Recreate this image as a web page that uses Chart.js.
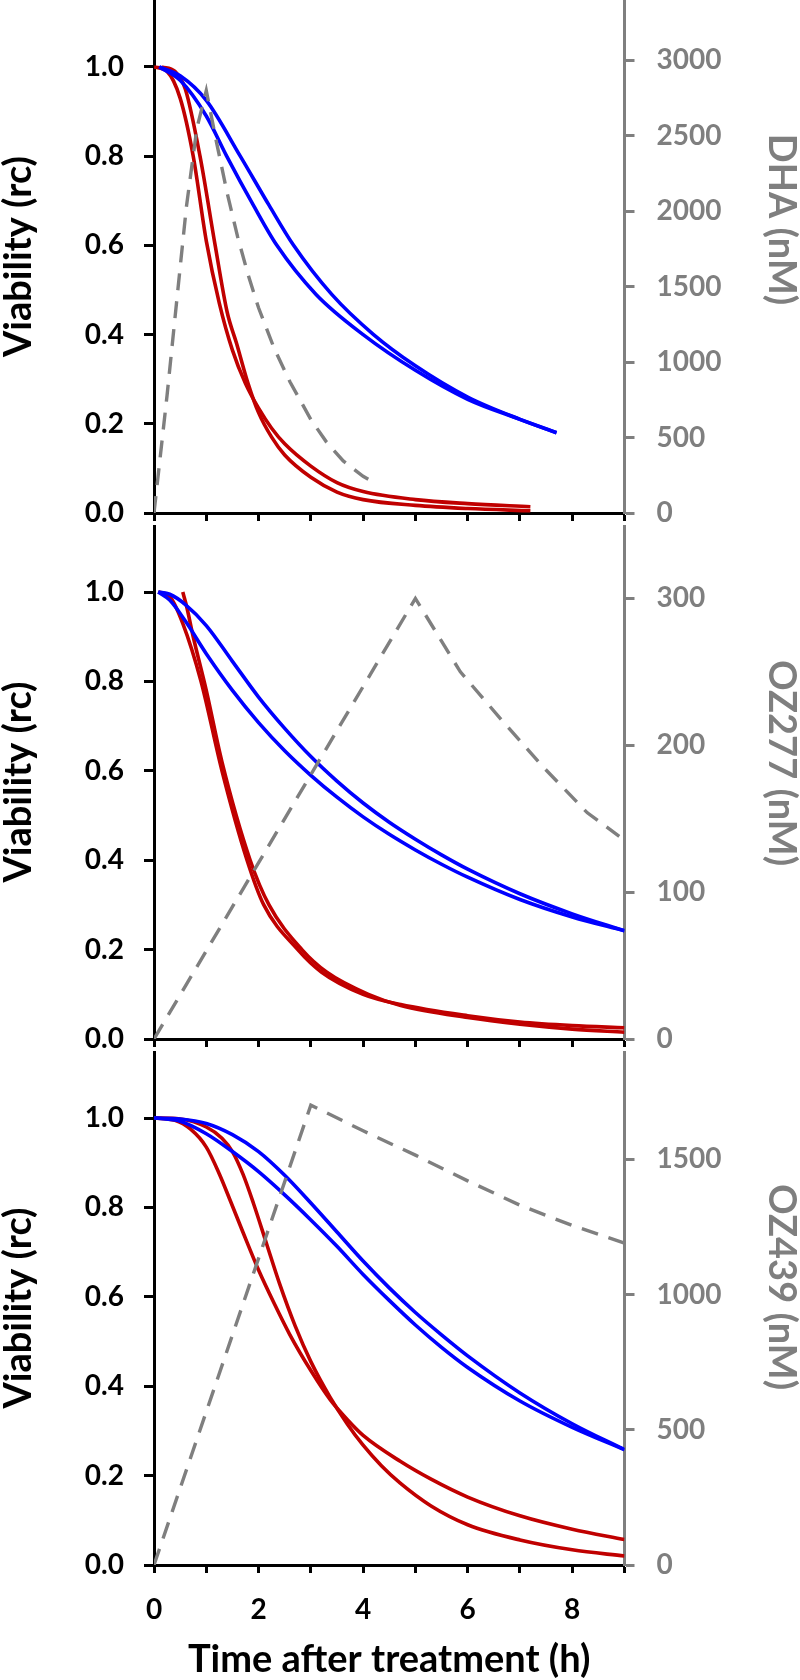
<!DOCTYPE html>
<html>
<head>
<meta charset="utf-8">
<script src="https://cdn.jsdelivr.net/npm/chart.js@4.4.1/dist/chart.umd.min.js"></script>
<style>
html, body { margin: 0; padding: 0; background: #ffffff; width: 800px; height: 1680px; overflow: hidden; }
canvas { position: absolute; left: 0; }
</style>
</head>
<body>
<canvas id="p1" width="800" height="525" style="top:0px"></canvas>
<canvas id="p2" width="800" height="526" style="top:525px"></canvas>
<canvas id="p3" width="800" height="629" style="top:1051px"></canvas>
<script>
// ---------- DATA ----------
const xTickValues = [0, 1, 2, 3, 4, 5, 6, 7, 8, 9];
const xLabelValues = [0, 2, 4, 6, 8];
const leftTickValues = [0, 0.2, 0.4, 0.6, 0.8, 1.0];
const dhaTickValues = [0, 500, 1000, 1500, 2000, 2500, 3000];
const oz277TickValues = [0, 100, 200, 300];
const oz439TickValues = [0, 500, 1000, 1500];
const leftTitle = 'Viability (rc)';
const xTitle = 'Time after treatment (h)';
const drugTitles = ['DHA (nM)', 'OZ277 (nM)', 'OZ439 (nM)'];

// Panel 1: DHA
const dhaConcTime = [0, 0.25, 0.43, 0.62, 0.82, 1.0, 1.2, 1.4, 1.6, 1.8, 2.0, 2.3, 2.6, 3.0, 3.3, 3.62, 4.0, 4.27];
const dhaConc     = [0, 780, 1390, 2030, 2550, 2800, 2450, 2120, 1830, 1580, 1360, 1090, 870, 620, 470, 345, 243, 190];
const dhaBlueATime = [0.1, 0.5, 1.0, 1.65, 2.2, 2.67, 3.4, 4.2, 5.0, 6.0, 7.0, 7.7];
const dhaBlueA     = [1.0, 0.98, 0.925, 0.8, 0.69, 0.6, 0.49, 0.4, 0.33, 0.26, 0.21, 0.18];
const dhaBlueBTime = [0.1, 0.5, 1.0, 1.39, 1.9, 2.35, 3.1, 4.0, 5.0, 6.0, 7.0, 7.7];
const dhaBlueB     = [1.0, 0.97, 0.89, 0.8, 0.69, 0.6, 0.49, 0.4, 0.32, 0.255, 0.21, 0.18];
const dhaRedATime = [0, 0.25, 0.5, 0.75, 1.0, 1.25, 1.5, 1.75, 2.0, 2.25, 2.5, 3.0, 3.5, 4.0, 5.0, 6.0, 7.2];
const dhaRedA     = [1.0, 0.99, 0.93, 0.8, 0.61, 0.47, 0.365, 0.29, 0.235, 0.19, 0.155, 0.105, 0.068, 0.048, 0.03, 0.021, 0.014];
const dhaRedBTime = [0.15, 0.4, 0.6, 0.88, 1.17, 1.4, 1.58, 1.8, 2.0, 2.25, 2.5, 3.0, 3.5, 4.0, 5.0, 6.0, 7.2];
const dhaRedB     = [1.0, 0.99, 0.95, 0.8, 0.6, 0.45, 0.38, 0.29, 0.225, 0.17, 0.13, 0.08, 0.047, 0.03, 0.017, 0.01, 0.005];

// Panel 2: OZ277
const oz277ConcTime = [0, 5, 5.86, 6.63, 7.45, 8.29, 8.9];
const oz277Conc     = [0, 300, 250, 218, 185, 154, 138];
const oz277BlueATime = [0.08, 0.3, 0.6, 1.0, 1.5, 2.0, 2.5, 3.0, 3.5, 4.0, 4.5, 5.0, 5.5, 6.0, 7.0, 8.0, 9.0];
const oz277BlueA     = [1.0, 0.995, 0.972, 0.925, 0.845, 0.765, 0.695, 0.632, 0.577, 0.528, 0.485, 0.447, 0.412, 0.38, 0.325, 0.28, 0.242];
const oz277BlueBTime = [0.08, 0.3, 0.6, 1.0, 1.5, 2.0, 2.5, 3.0, 3.5, 4.0, 4.5, 5.0, 5.5, 6.0, 7.0, 8.0, 9.0];
const oz277BlueB     = [1.0, 0.982, 0.935, 0.862, 0.78, 0.708, 0.645, 0.59, 0.541, 0.497, 0.458, 0.423, 0.391, 0.362, 0.312, 0.273, 0.242];
const oz277RedATime = [0.08, 0.3, 0.55, 0.9, 1.3, 1.78, 2.1, 2.75, 3.2, 4.0, 4.72, 6.0, 7.0, 8.0, 9.0];
const oz277RedA     = [1.0, 0.99, 0.93, 0.8, 0.6, 0.4, 0.3, 0.2, 0.15, 0.1, 0.077, 0.052, 0.038, 0.03, 0.025];
const oz277RedBTime = [0.55, 0.62, 0.75, 1.0, 1.3, 1.84, 2.2, 2.83, 3.3, 4.1, 4.72, 6.0, 7.0, 8.0, 9.0];
const oz277RedB     = [1.0, 0.97, 0.9, 0.78, 0.62, 0.4, 0.3, 0.2, 0.15, 0.1, 0.075, 0.048, 0.033, 0.022, 0.015];

// Panel 3: OZ439
const oz439ConcTime = [0, 3, 4, 5, 6, 7, 8, 9];
const oz439Conc     = [0, 1700, 1605, 1515, 1420, 1330, 1255, 1190];
const oz439BlueATime = [0, 0.5, 1, 1.5, 2, 2.5, 3, 3.5, 4, 4.5, 5, 5.5, 6, 7, 8, 9];
const oz439BlueA     = [1.0, 0.998, 0.988, 0.963, 0.925, 0.872, 0.81, 0.745, 0.68, 0.62, 0.565, 0.515, 0.468, 0.385, 0.316, 0.258];
const oz439BlueBTime = [0, 0.5, 1, 1.5, 2, 2.5, 3, 3.5, 4, 4.5, 5, 5.5, 6, 7, 8, 9];
const oz439BlueB     = [1.0, 0.993, 0.965, 0.925, 0.88, 0.828, 0.772, 0.713, 0.65, 0.592, 0.537, 0.487, 0.442, 0.367, 0.308, 0.258];
const oz439RedATime = [0, 0.4, 0.7, 1.0, 1.25, 1.46, 1.7, 2.0, 2.3, 2.6, 3.0, 3.37, 3.7, 4.0, 4.71, 5.3, 6.0, 7.0, 8.0, 9.0];
const oz439RedA     = [1.0, 0.995, 0.975, 0.935, 0.875, 0.815, 0.745, 0.66, 0.585, 0.515, 0.435, 0.37, 0.325, 0.29, 0.232, 0.192, 0.152, 0.11, 0.08, 0.057];
const oz439RedBTime = [0, 0.5, 1.0, 1.3, 1.5, 1.7, 1.9, 2.15, 2.4, 2.7, 3.0, 3.37, 3.7, 4.0, 4.35, 4.71, 5.3, 6.0, 7.0, 8.0, 9.0];
const oz439RedB     = [1.0, 0.998, 0.98, 0.955, 0.925, 0.875, 0.81, 0.72, 0.63, 0.535, 0.455, 0.375, 0.315, 0.268, 0.222, 0.183, 0.132, 0.09, 0.056, 0.034, 0.02];

const rightMaxes = [3400, 350, 1900];
const rightTickSets = [dhaTickValues, oz277TickValues, oz439TickValues];

// ---------- STYLE ----------
const BLUE = '#0000FF', RED = '#C00000', GRAY = '#7F7F7F', BLACK = '#000000';
const FONT = 'Lato';
const TICK_SIZE = 28, TITLE_SIZE = 38;
const CURVE_W = 3.6;

function pts(t, v) { return t.map((x, i) => ({ x: x, y: v[i] })); }
function noPad(s) { s.paddingTop = 0; s.paddingBottom = 0; s.paddingLeft = 0; s.paddingRight = 0; }

const sideTitlePlugin = {
  id: 'sideTitle',
  afterDraw(chart, args, opts) {
    const s = chart.scales.y2;
    const ctx = chart.ctx;
    ctx.save();
    ctx.translate(s.right - opts.edge, (s.top + s.bottom) / 2 - opts.shift);
    ctx.rotate(Math.PI / 2);
    ctx.font = 'bold ' + opts.size + 'px ' + FONT;
    ctx.fillStyle = GRAY;
    ctx.textAlign = 'center';
    ctx.textBaseline = 'middle';
    ctx.fillText(opts.text, 0, 0);
    ctx.restore();
  }
};

function makePanel(id, idx, series, showX, xHeight, shift) {
  const datasets = [
    { data: pts(series.concT, series.conc), yAxisID: 'y2', borderColor: GRAY, borderDash: [17, 11], borderWidth: 3.4, tension: 0 },
    { data: pts(series.bAT, series.bA), yAxisID: 'y', borderColor: BLUE, borderWidth: CURVE_W, cubicInterpolationMode: 'monotone' },
    { data: pts(series.bBT, series.bB), yAxisID: 'y', borderColor: BLUE, borderWidth: CURVE_W, cubicInterpolationMode: 'monotone' },
    { data: pts(series.rAT, series.rA), yAxisID: 'y', borderColor: RED, borderWidth: CURVE_W, cubicInterpolationMode: 'monotone' },
    { data: pts(series.rBT, series.rB), yAxisID: 'y', borderColor: RED, borderWidth: CURVE_W, cubicInterpolationMode: 'monotone' }
  ];
  return new Chart(document.getElementById(id), {
    type: 'line',
    data: { datasets: datasets },
    plugins: [sideTitlePlugin],
    options: {
      responsive: false,
      animation: false,
      devicePixelRatio: 1,
      layout: { padding: 0 },
      elements: { point: { radius: 0 }, line: { fill: false, borderCapStyle: 'butt' } },
      plugins: {
        legend: { display: false },
        tooltip: { enabled: false },
        sideTitle: { text: drugTitles[idx], shift: shift, edge: 19, size: TITLE_SIZE }
      },
      scales: {
        x: {
          type: 'linear', position: 'bottom', min: 0, max: 9,
          border: { display: true, color: BLACK, width: 3 },
          grid: { display: true, drawOnChartArea: false, drawTicks: true, tickLength: 8, tickColor: BLACK, tickWidth: 3, color: BLACK },
          ticks: {
            display: showX, autoSkip: false, maxRotation: 0, padding: 20, color: BLACK,
            font: { family: FONT, weight: 'bold', size: TICK_SIZE },
            callback: (v) => (xLabelValues.includes(v) ? String(v) : '')
          },
          afterBuildTicks: (s) => { s.ticks = xTickValues.map((v) => ({ value: v })); },
          title: { display: showX, text: xTitle, color: BLACK, font: { family: FONT, weight: 'bold', size: TITLE_SIZE, lineHeight: 1 }, padding: { top: 0, bottom: 1 } },
          afterFit: (s) => { s.height = xHeight; noPad(s); }
        },
        y: {
          type: 'linear', position: 'left', min: 0, max: 1.15,
          border: { display: true, color: BLACK, width: 3 },
          grid: { display: true, drawOnChartArea: false, drawTicks: true, tickLength: 10, tickColor: BLACK, tickWidth: 3, color: BLACK },
          ticks: {
            padding: 20, color: BLACK,
            font: { family: FONT, weight: 'bold', size: TICK_SIZE },
            callback: (v) => Number(v).toFixed(1)
          },
          afterBuildTicks: (s) => { s.ticks = leftTickValues.map((v) => ({ value: v })); },
          title: { display: true, text: leftTitle, color: BLACK, font: { family: FONT, weight: 'bold', size: TITLE_SIZE, lineHeight: 1 }, padding: { top: 0, bottom: 0 } },
          afterFit: (s) => { s.width = 154; noPad(s); }
        },
        y2: {
          type: 'linear', position: 'right', min: 0, max: rightMaxes[idx],
          border: { display: true, color: GRAY, width: 3 },
          grid: { display: true, drawOnChartArea: false, drawTicks: true, tickLength: 10, tickColor: GRAY, tickWidth: 3, color: GRAY },
          ticks: {
            padding: 22, color: GRAY,
            font: { family: FONT, weight: 'bold', size: TICK_SIZE },
            callback: (v) => String(v)
          },
          afterBuildTicks: (s) => { s.ticks = rightTickSets[idx].map((v) => ({ value: v })); },
          title: { display: false },
          afterFit: (s) => { s.width = 175.5; noPad(s); }
        }
      }
    }
  });
}

function build() {
  makePanel('p1', 0, {
    concT: dhaConcTime, conc: dhaConc,
    bAT: dhaBlueATime, bA: dhaBlueA, bBT: dhaBlueBTime, bB: dhaBlueB,
    rAT: dhaRedATime, rA: dhaRedA, rBT: dhaRedBTime, rB: dhaRedB
  }, false, 12, 37);
  makePanel('p2', 1, {
    concT: oz277ConcTime, conc: oz277Conc,
    bAT: oz277BlueATime, bA: oz277BlueA, bBT: oz277BlueBTime, bB: oz277BlueB,
    rAT: oz277RedATime, rA: oz277RedA, rBT: oz277RedBTime, rB: oz277RedB
  }, false, 12, 19);
  makePanel('p3', 2, {
    concT: oz439ConcTime, conc: oz439Conc,
    bAT: oz439BlueATime, bA: oz439BlueA, bBT: oz439BlueBTime, bB: oz439BlueB,
    rAT: oz439RedATime, rA: oz439RedA, rBT: oz439RedBTime, rB: oz439RedB
  }, true, 115, 21);
}

if (document.fonts && document.fonts.load) {
  Promise.all([document.fonts.load('bold 28px Lato'), document.fonts.load('bold 38px Lato')]).then(build, build);
} else {
  build();
}
</script>
</body>
</html>
